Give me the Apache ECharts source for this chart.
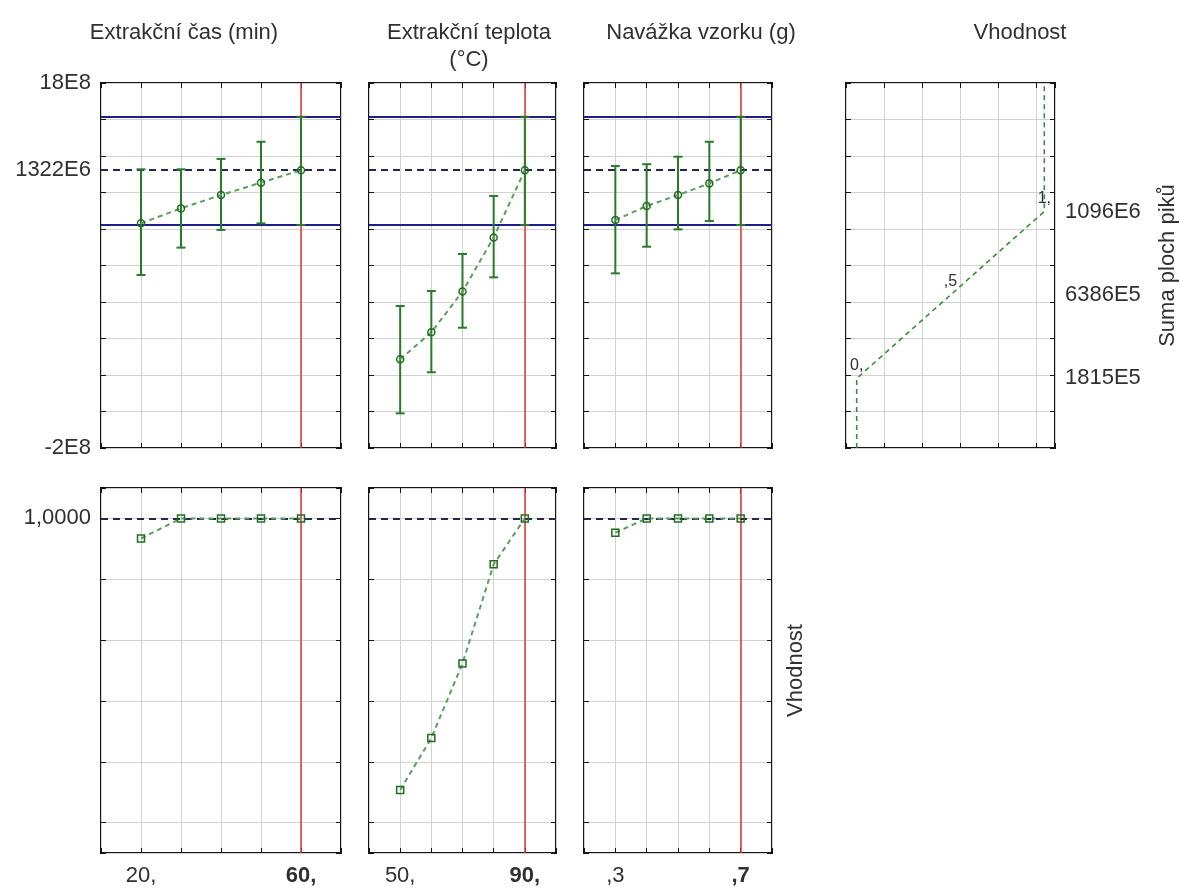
<!DOCTYPE html>
<html><head><meta charset="utf-8">
<script src="https://cdn.jsdelivr.net/npm/echarts@6/dist/echarts.min.js"></script>
<style>html,body{margin:0;padding:0;background:#fff}#c{width:1180px;height:888px}</style>
</head><body><div id="c"></div>
<script>
// ---- factor levels ----
const timeX = [20, 30, 40, 50, 60];
const tempX = [50, 60, 70, 80, 90];
const massX = [0.3, 0.4, 0.5, 0.6, 0.7];
// ---- predicted response (Suma ploch piků) with confidence limits ----
const timePred = [1031e6, 1113e6, 1186e6, 1254e6, 1322e6];
const timeLow  = [748e6, 898e6, 995e6, 1031e6, 1022e6];
const timeHigh = [1327e6, 1327e6, 1384e6, 1478e6, 1615e6];
const tempPred = [286e6, 434e6, 657e6, 954e6, 1322e6];
const tempLow  = [-10e6, 215e6, 459e6, 735e6, 1022e6];
const tempHigh = [578e6, 660e6, 863e6, 1181e6, 1615e6];
const massPred = [1049e6, 1126e6, 1186e6, 1250e6, 1322e6];
const massLow  = [757e6, 903e6, 998e6, 1044e6, 1022e6];
const massHigh = [1345e6, 1355e6, 1396e6, 1478e6, 1615e6];
// ---- desirability profiles ----
const timeDes = [0.934, 1, 1, 1, 1];
const tempDes = [0.107, 0.278, 0.523, 0.849, 1];
const massDes = [0.953, 1, 1, 1, 1];
// ---- current settings ----
const currentX = [60, 90, 0.7];
const predCurrent = 1322e6;
const ciLow = 1022e6;
const ciHigh = 1615e6;
const desCurrent = 1;
// ---- desirability function ----
const dfDes = [0, 0, 0.5, 1, 1];
const dfResp = [-2e8, 1815e5, 6386e5, 1096e6, 18e8];
const dfLabels = ['', '0,', ',5', '1,', ''];
// ---- tick labels ----
const respTickValues = [18e8, 1322e6, -2e8];
const respTickLabels = ['18E8', '1322E6', '-2E8'];
const dfTickValues = [1096e6, 6386e5, 1815e5];
const dfTickLabels = ['1096E6', '6386E5', '1815E5'];
const desTickValues = [1];
const desTickLabels = ['1,0000'];
const timeTickValues = [20, 60];
const timeTickLabels = ['20,', '60,'];
const tempTickValues = [50, 90];
const tempTickLabels = ['50,', '90,'];
const massTickValues = [0.3, 0.7];
const massTickLabels = [',3', ',7'];
const factorTitles = ['Extrakční čas (min)', 'Extrakční teplota\n(°C)', 'Navážka vzorku (g)'];
const desTitle = 'Vhodnost';
const respName = 'Suma ploch piků';
const desName = 'Vhodnost';

const FONT = '"Liberation Sans", Arial, Helvetica, sans-serif';
const TXT = '#303030';
const GRIDC = '#d2d2d2';
const BORDER = '#151515';
const ERR = '#2b7a2b';
const DASHG = '#5f9c5f';
const MARK = '#1f6e1f';
const NAVY = '#1e1e8c';
const PREDC = '#262656';
const RED = '#e23434';

const ROW1_TOP = 83, ROW2_TOP = 488, PANEL_H = 365;
const cols = [
  {left: 101, width: 240, xs: timeX, pred: timePred, lo: timeLow, hi: timeHigh, des: timeDes,
   min: 10, max: 70, step: 10, tv: timeTickValues, tl: timeTickLabels, title: factorTitles[0], titleX: 179},
  {left: 369, width: 187, xs: tempX, pred: tempPred, lo: tempLow, hi: tempHigh, des: tempDes,
   min: 40, max: 100, step: 10, tv: tempTickValues, tl: tempTickLabels, title: factorTitles[1], titleX: 464},
  {left: 584, width: 188, xs: massX, pred: massPred, lo: massLow, hi: massHigh, des: massDes,
   min: 0.2, max: 0.8, step: 0.1, tv: massTickValues, tl: massTickLabels, title: factorTitles[2], titleX: 696}
];
const DES_PANEL = {left: 846, width: 209, titleX: 1015};

const tick = {show: true, inside: true, length: 5, lineStyle: {color: BORDER, width: 1}};
function ax(o) {
  return Object.assign({type: 'value', axisLine: {show: false, onZero: false}, axisTick: tick,
    axisLabel: {show: false}, splitLine: {show: false}}, o);
}
function findIdx(vals, v) {
  return vals.findIndex(a => Math.abs(a - v) <= 1e-9 * Math.max(1, Math.abs(a)));
}
function labelFmt(vals, labs, boldLast) {
  return function (v) {
    const i = findIdx(vals, v);
    if (i < 0) return '';
    return (boldLast && i === vals.length - 1) ? '{b|' + labs[i] + '}' : labs[i];
  };
}
const lblBase = {show: true, fontSize: 22, color: TXT, fontFamily: FONT};
const split = {show: true, lineStyle: {color: GRIDC, width: 1}};

const grids = [], xAxis = [], yAxis = [], series = [], title = [];

function errorBarRender(params, api) {
  const x = api.value(0), lo = api.value(1), hi = api.value(2);
  const pLo = api.coord([x, lo]), pHi = api.coord([x, hi]);
  const cap = 4.5;
  const style = {stroke: ERR, lineWidth: 2};
  return {type: 'group', children: [
    {type: 'line', shape: {x1: pLo[0], y1: pLo[1], x2: pHi[0], y2: pHi[1]}, style: style},
    {type: 'line', shape: {x1: pLo[0] - cap, y1: pLo[1], x2: pLo[0] + cap, y2: pLo[1]}, style: style},
    {type: 'line', shape: {x1: pHi[0] - cap, y1: pHi[1], x2: pHi[0] + cap, y2: pHi[1]}, style: style}
  ]};
}

function addGrid(left, top, width) {
  grids.push({left: left, top: top, width: width, height: PANEL_H, show: true,
    borderColor: BORDER, borderWidth: 2, backgroundColor: 'transparent', containLabel: false});
  return grids.length - 1;
}
const redLine = (v) => ({xAxis: v, lineStyle: {color: RED, width: 1.5, type: 'solid', opacity: 1}});

cols.forEach((c, i) => {
  // ---- top row: response profile ----
  let g = addGrid(c.left, ROW1_TOP, c.width);
  let xi = xAxis.length;
  xAxis.push(ax({gridIndex: g, min: c.min, max: c.max, interval: c.step, position: 'bottom', splitLine: split}));
  xAxis.push(ax({gridIndex: g, min: c.min, max: c.max, interval: c.step, position: 'top'}));
  let yi = yAxis.length;
  yAxis.push(ax({gridIndex: g, min: -2e8, max: 18e8, interval: 2e8, position: 'left', splitLine: split,
    axisLabel: i === 0 ? Object.assign({}, lblBase, {customValues: respTickValues, margin: 10,
      formatter: labelFmt(respTickValues, respTickLabels, false)}) : {show: false}}));
  yAxis.push(ax({gridIndex: g, min: -2e8, max: 18e8, interval: 2e8, position: 'right'}));
  series.push({type: 'custom', xAxisIndex: xi, yAxisIndex: yi, z: 6, renderItem: errorBarRender,
    dimensions: ['x', 'lo', 'hi'], encode: {x: 0, y: [1, 2]},
    data: c.xs.map((x, k) => [x, c.lo[k], c.hi[k]])});
  series.push({type: 'line', xAxisIndex: xi, yAxisIndex: yi, z: 7,
    data: c.xs.map((x, k) => [x, c.pred[k]]),
    lineStyle: {color: DASHG, width: 2, type: [5, 4]},
    symbol: 'circle', symbolSize: 7,
    itemStyle: {color: 'rgba(0,0,0,0)', borderColor: MARK, borderWidth: 1.5},
    markLine: {silent: true, symbol: 'none', animation: false, label: {show: false},
      data: [
        redLine(currentX[i]),
        {yAxis: ciHigh, lineStyle: {color: NAVY, width: 2, type: 'solid'}},
        {yAxis: ciLow, lineStyle: {color: NAVY, width: 2, type: 'solid'}},
        {yAxis: predCurrent, lineStyle: {color: PREDC, width: 2, type: [7, 5]}}
      ]}});
  title.push({text: c.title, left: c.titleX, top: 14, textAlign: 'center',
    textStyle: {fontSize: 22, fontWeight: 'normal', color: TXT, fontFamily: FONT, lineHeight: 27}});

  // ---- bottom row: desirability profile ----
  g = addGrid(c.left, ROW2_TOP, c.width);
  xi = xAxis.length;
  xAxis.push(ax({gridIndex: g, min: c.min, max: c.max, interval: c.step, position: 'bottom', splitLine: split,
    axisLabel: Object.assign({}, lblBase, {customValues: c.tv, margin: 12,
      formatter: labelFmt(c.tv, c.tl, true),
      rich: {b: {fontSize: 22, fontWeight: 'bold', color: TXT, fontFamily: FONT}}})}));
  xAxis.push(ax({gridIndex: g, min: c.min, max: c.max, interval: c.step, position: 'top'}));
  yi = yAxis.length;
  yAxis.push(ax({gridIndex: g, min: -0.1, max: 1.1, splitNumber: 6, position: 'left', splitLine: split,
    axisLabel: i === 0 ? Object.assign({}, lblBase, {customValues: desTickValues, margin: 10,
      formatter: labelFmt(desTickValues, desTickLabels, false)}) : {show: false}}));
  const rightY = {gridIndex: g, min: -0.1, max: 1.1, splitNumber: 6, position: 'right'};
  if (i === 2) Object.assign(rightY, {name: desName, nameLocation: 'middle', nameRotate: 90, nameGap: 13,
    nameTextStyle: {fontSize: 22, color: TXT, fontFamily: FONT}});
  yAxis.push(ax(rightY));
  series.push({type: 'line', xAxisIndex: xi, yAxisIndex: yi, z: 7,
    data: c.xs.map((x, k) => [x, c.des[k]]),
    lineStyle: {color: DASHG, width: 2, type: [5, 4]},
    symbol: 'rect', symbolSize: 7,
    itemStyle: {color: 'rgba(0,0,0,0)', borderColor: MARK, borderWidth: 1.5},
    markLine: {silent: true, symbol: 'none', animation: false, label: {show: false},
      data: [
        redLine(currentX[i]),
        {yAxis: desCurrent, lineStyle: {color: PREDC, width: 2, type: [7, 5]}}
      ]}});
});

// ---- desirability function panel ----
(function () {
  const g = addGrid(DES_PANEL.left, ROW1_TOP, DES_PANEL.width);
  const xi = xAxis.length;
  xAxis.push({type: 'value', gridIndex: g, min: -0.057, max: 1.057, position: 'bottom', show: false,
    axisLine: {onZero: false}});
  // helper axes carrying the evenly spaced grid lines of this panel
  xAxis.push(ax({gridIndex: g, min: 0, max: 5.486, interval: 1, position: 'bottom', splitLine: split}));
  xAxis.push(ax({gridIndex: g, min: 0, max: 5.486, interval: 1, position: 'top'}));
  const yi = yAxis.length;
  yAxis.push(ax({gridIndex: g, min: -2e8, max: 18e8, interval: 2e8, position: 'left', splitLine: split}));
  yAxis.push(ax({gridIndex: g, min: -2e8, max: 18e8, interval: 2e8, position: 'right',
    axisLabel: Object.assign({}, lblBase, {customValues: dfTickValues, margin: 10,
      formatter: labelFmt(dfTickValues, dfTickLabels, false)}),
    name: respName, nameLocation: 'middle', nameRotate: 90, nameGap: 102,
    nameTextStyle: {fontSize: 22, color: TXT, fontFamily: FONT}}));
  series.push({type: 'line', xAxisIndex: xi, yAxisIndex: yi, z: 7,
    data: dfDes.map((d, k) => [d, dfResp[k]]),
    lineStyle: {color: '#3f8a3f', width: 1.6, type: [5, 4]},
    symbol: 'circle', symbolSize: 1,
    itemStyle: {color: 'rgba(0,0,0,0)', borderColor: 'rgba(0,0,0,0)'},
    label: {show: true, position: 'top', distance: 4, fontSize: 16, color: TXT, fontFamily: FONT,
      formatter: p => dfLabels[p.dataIndex]}});
  title.push({text: desTitle, left: DES_PANEL.titleX, top: 14, textAlign: 'center',
    textStyle: {fontSize: 22, fontWeight: 'normal', color: TXT, fontFamily: FONT, lineHeight: 27}});
})();

const chart = echarts.init(document.getElementById('c'));
chart.setOption({
  animation: false,
  backgroundColor: '#fff',
  textStyle: {fontFamily: FONT},
  title: title,
  grid: grids,
  xAxis: xAxis,
  yAxis: yAxis,
  series: series
});
</script>
</body></html>
